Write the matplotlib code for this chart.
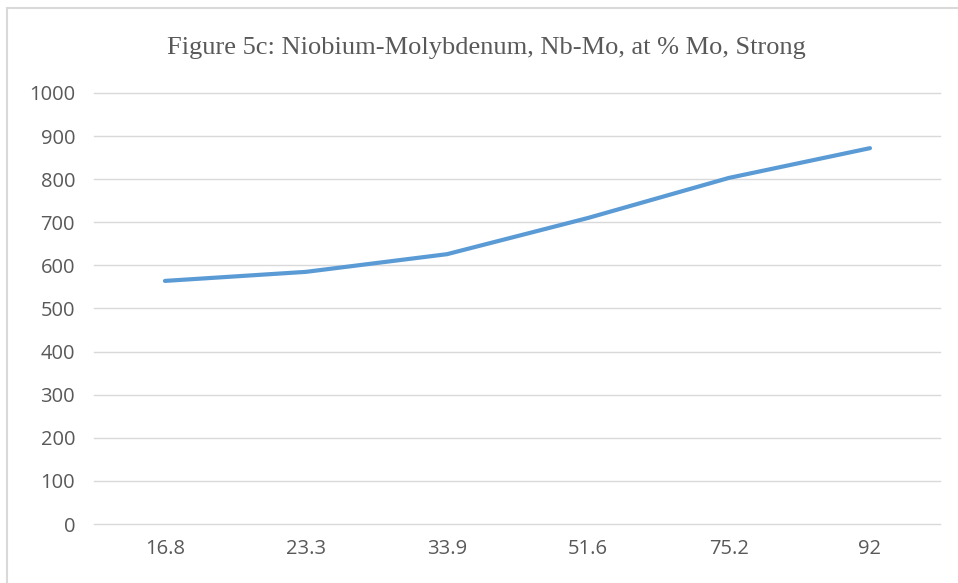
import matplotlib.pyplot as plt
from matplotlib.patches import Rectangle

categories = ['16.8', '23.3', '33.9', '51.6', '75.2', '92']
strength = [564, 585, 626, 710, 803, 872]
yticks = [0, 100, 200, 300, 400, 500, 600, 700, 800, 900, 1000]

fig = plt.figure(figsize=(9.58, 5.83), dpi=100)
ax = fig.add_axes([0.0986, 0.1012, 0.8831, 0.7393])

# chart border, cut off on the right and bottom like the screenshot
fig.patches.append(Rectangle((7 / 958, -0.05), 1.0, 1 - 8 / 583 + 0.05,
                             transform=fig.transFigure, fill=False,
                             edgecolor='#d9d9d9', linewidth=1.5))

x = range(len(categories))
ax.plot(x, strength, color='#5b9bd5', linewidth=3, solid_capstyle='round')

ax.set_xlim(-0.5, len(categories) - 0.5)
ax.set_ylim(0, 1000)
ax.set_yticks(yticks)
ax.set_xticks(list(x))
ax.set_xticklabels(categories)
ax.grid(axis='y', color='#d9d9d9', linewidth=1)
for gl in ax.get_ygridlines():
    gl.set_clip_on(False)
ax.set_axisbelow(True)
for s in ax.spines.values():
    s.set_visible(False)
ax.tick_params(length=0, labelsize=14.5, labelcolor='#595959')
ax.tick_params(axis='y', pad=14)
ax.tick_params(axis='x', pad=11)
for lab in ax.get_xticklabels() + ax.get_yticklabels():
    lab.set_family('Open Sans')

fig.text(0.508, 0.918, 'Figure 5c: Niobium-Molybdenum, Nb-Mo, at % Mo, Strong',
         ha='center', va='center', fontsize=19, family='Liberation Serif',
         color='#595959')

fig.savefig('out.png', dpi=100)
